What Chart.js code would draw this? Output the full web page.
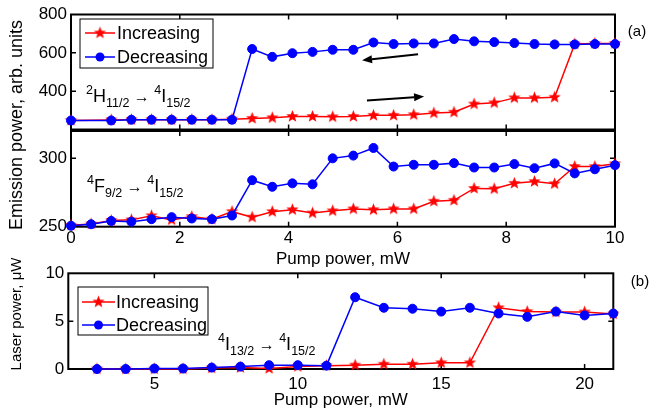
<!DOCTYPE html>
<html>
<head>
<meta charset="utf-8">
<script src="https://cdn.jsdelivr.net/npm/chart.js@4.4.1/dist/chart.umd.min.js"></script>
<style>
  html, body { margin: 0; padding: 0; background: #fff; }
  #wrap { position: relative; width: 649px; height: 415px; }
  #wrap canvas { position: absolute; left: 0; top: 0; }
</style>
</head>
<body>
<div id="wrap">
  <canvas id="chartTop" width="649" height="415"></canvas>
  <canvas id="chartMid" width="649" height="415"></canvas>
  <canvas id="chartLaser" width="649" height="415"></canvas>
</div>
<script>
// panel (a): pump power, mW
const pumpA = [0, 0.37, 0.74, 1.11, 1.48, 1.85, 2.22, 2.59, 2.96, 3.33, 3.70, 4.07, 4.44, 4.81,
               5.19, 5.56, 5.93, 6.30, 6.67, 7.04, 7.41, 7.78, 8.15, 8.52, 8.89, 9.26, 9.63, 10];
// 2H11/2 -> 4I15/2 emission
const incTop = [247, null, 250, 251, 251, 251, 251, 251, 254, 258, 261, 268, 268, 266,
                268, 274, 274, 277, 286, 290, 333, 339, 365, 365, 368, 646, 649, 649];
const decTop = [247, null, 247, 251, 251, 251, 251, 251, 251, 620, 579, 598, 605, 616,
                616, 654, 646, 649, 649, 672, 660, 656, 651, 646, 644, 644, 646, 646];
// 4F9/2 -> 4I15/2 emission
const incMid = [251, 252, 254.5, 255, 258, 255, 257.4, 255.5, 261, 257, 261, 262.4, 260, 261.6,
                263, 262.4, 263, 263, 268.6, 269.3, 278, 277.7, 281.7, 283, 281.4, 294, 294, 296];
const decMid = [250.7, 251.8, 254.2, 253.7, 255.5, 257, 256, 255.5, 258.2, 284, 279.2, 281.7, 281, 300,
                302, 307.6, 294, 295.3, 295.3, 296.5, 293.3, 293.3, 295.8, 292.8, 296.3, 289, 292, 295];
// panel (b): laser power, uW
const pumpB = [3, 4, 5, 6, 7, 8, 9, 10, 11, 12, 13, 14, 15, 16, 17, 18, 19, 20, 21];
const incLaser = [0, 0, 0, 0, 0.1, 0.15, 0.05, 0.25, 0.35, 0.4, 0.5, 0.5, 0.65, 0.65, 6.4, 6.0, 5.95, 5.95, 5.75];
const decLaser = [0, 0, 0.05, 0.05, 0.15, 0.25, 0.4, 0.4, 0.35, 7.5, 6.4, 6.3, 6.0, 6.4, 5.8, 5.45, 6.0, 5.6, 5.8];

// tick values
const xTicksA = [0, 2, 4, 6, 8, 10];
const yTicksTop = [400, 600, 800];
const yTicksMid = [250, 300];
const xTicksB = [5, 10, 15, 20];
const yTicksLaser = [0, 5, 10];

// direction arrows in panel (a), data space: [x tail, y tail, x head, y head]
const arrowsTop = [[6.38, 593, 5.35, 561], [5.44, 351, 6.49, 372]];

const FONT = "'Liberation Sans', Arial, Helvetica, sans-serif";
Chart.defaults.font.family = FONT;
Chart.defaults.font.size = 17;
Chart.defaults.color = '#000';

function makeStar(r, color) {
    const c = document.createElement('canvas');
    const s = Math.ceil(r * 2 + 2);
    c.width = s; c.height = s;
    const g = c.getContext('2d');
    g.translate(s / 2, s / 2);
    g.beginPath();
    for (let k = 0; k < 10; k++) {
        const rad = k % 2 === 0 ? r : r * 0.42;
        const a = -Math.PI / 2 + k * Math.PI / 5;
        g.lineTo(rad * Math.cos(a), rad * Math.sin(a));
    }
    g.closePath();
    g.fillStyle = color;
    g.fill();
    return c;
}
const redStar = makeStar(6.5, '#ff0000');

const pts = (xs, ys) => xs.map((x, i) => ({ x: x, y: ys[i] }));

function incSet(xs, ys) {
    return {
        label: 'Increasing', data: pts(xs, ys),
        borderColor: '#ff0000', backgroundColor: '#ff0000', borderWidth: 1.5,
        pointStyle: redStar, pointRadius: 6, order: 2, clip: false, spanGaps: true
    };
}
function decSet(xs, ys) {
    return {
        label: 'Decreasing', data: pts(xs, ys),
        borderColor: '#0000ff', backgroundColor: '#0000ff', borderWidth: 1.5,
        pointStyle: 'circle', pointRadius: 4.5, pointBorderWidth: 1, order: 1, clip: false, spanGaps: true
    };
}

// box and inward ticks like the original figure
const framePlugin = {
    id: 'frame',
    beforeDatasetsDraw(chart) {
        const { ctx, chartArea: a } = chart;
        const xs = chart.scales.x, ys = chart.scales.y;
        ctx.save();
        ctx.strokeStyle = '#000';
        ctx.lineWidth = 1.5;
        xs.ticks.forEach(t => {
            if (t.value <= xs.min || t.value >= xs.max) return;
            const px = xs.getPixelForValue(t.value);
            ctx.beginPath();
            ctx.moveTo(px, a.bottom); ctx.lineTo(px, a.bottom - 5);
            ctx.moveTo(px, a.top); ctx.lineTo(px, a.top + 5);
            ctx.stroke();
        });
        ys.ticks.forEach(t => {
            if (t.value <= ys.min || t.value >= ys.max) return;
            const py = ys.getPixelForValue(t.value);
            ctx.beginPath();
            ctx.moveTo(a.left, py); ctx.lineTo(a.left + 5, py);
            ctx.moveTo(a.right, py); ctx.lineTo(a.right - 5, py);
            ctx.stroke();
        });
        ctx.lineWidth = 2;
        ctx.strokeRect(a.left, a.top, a.right - a.left, a.bottom - a.top);
        ctx.restore();
    }
};

function drawTerm(ctx, x, y, parts) {
    for (const [kind, txt] of parts) {
        const size = kind === 'main' ? 18 : kind === 'arr' ? 16 : 12.5;
        ctx.font = size + 'px ' + FONT;
        const dy = kind === 'sup' ? -8 : kind === 'sub' ? 5 : 0;
        ctx.fillText(txt, x, y + dy);
        x += ctx.measureText(txt).width;
    }
}

function drawArrow(ctx, x0, y0, x1, y1) {
    const ang = Math.atan2(y1 - y0, x1 - x0);
    const hl = 10, hw = 4;
    const bx = x1 - hl * Math.cos(ang), by = y1 - hl * Math.sin(ang);
    ctx.beginPath();
    ctx.moveTo(x0, y0); ctx.lineTo(bx, by);
    ctx.stroke();
    ctx.beginPath();
    ctx.moveTo(x1, y1);
    ctx.lineTo(bx + hw * Math.sin(ang), by - hw * Math.cos(ang));
    ctx.lineTo(bx - hw * Math.sin(ang), by + hw * Math.cos(ang));
    ctx.closePath();
    ctx.fill();
}

// legend box, labels, arrows, side texts
const decorPlugin = {
    id: 'decor',
    afterDatasetsDraw(chart, args, opts) {
        const ctx = chart.ctx;
        ctx.save();
        ctx.fillStyle = '#000';
        ctx.strokeStyle = '#000';
        if (opts.legend) {
            const L = opts.legend;
            ctx.fillStyle = '#fff';
            ctx.fillRect(L.x, L.y, L.w, L.h);
            ctx.lineWidth = 1;
            ctx.strokeRect(L.x, L.y, L.w, L.h);
            const sets = chart.data.datasets.slice().sort((p, q) => q.order - p.order);
            sets.forEach((ds, i) => {
                const ry = L.rows[i];
                ctx.strokeStyle = ds.borderColor;
                ctx.lineWidth = ds.borderWidth;
                ctx.beginPath();
                ctx.moveTo(L.sx0, ry); ctx.lineTo(L.sx1, ry);
                ctx.stroke();
                const cx = (L.sx0 + L.sx1) / 2;
                if (ds.pointStyle === 'circle') {
                    ctx.fillStyle = ds.backgroundColor;
                    ctx.beginPath();
                    ctx.arc(cx, ry, ds.pointRadius, 0, Math.PI * 2);
                    ctx.fill();
                } else {
                    ctx.drawImage(ds.pointStyle, cx - ds.pointStyle.width / 2, ry - ds.pointStyle.height / 2);
                }
                ctx.fillStyle = '#000';
                ctx.font = '18px ' + FONT;
                ctx.textBaseline = 'middle';
                ctx.fillText(ds.label, L.tx, ry + 1);
            });
        }
        ctx.textBaseline = 'alphabetic';
        ctx.textAlign = 'left';
        (opts.terms || []).forEach(t => drawTerm(ctx, t.x, t.y, t.parts));
        if (opts.arrows) {
            const xs = chart.scales.x, ys = chart.scales.y;
            ctx.lineWidth = 2;
            ctx.strokeStyle = '#000';
            ctx.fillStyle = '#000';
            opts.arrows.forEach(a => drawArrow(ctx,
                xs.getPixelForValue(a[0]), ys.getPixelForValue(a[1]),
                xs.getPixelForValue(a[2]), ys.getPixelForValue(a[3])));
        }
        (opts.texts || []).forEach(t => {
            ctx.save();
            ctx.translate(t.x, t.y);
            if (t.rotate) ctx.rotate(-Math.PI / 2);
            ctx.font = t.size + 'px ' + FONT;
            ctx.fillStyle = '#000';
            ctx.textAlign = 'center';
            ctx.textBaseline = 'middle';
            ctx.fillText(t.text, 0, 0);
            ctx.restore();
        });
        ctx.restore();
    }
};

function axisX(min, max, ticks, showLabels, height, labelPad, title) {
    return {
        type: 'linear', min: min, max: max,
        afterBuildTicks: s => { s.ticks = ticks.map(v => ({ value: v })); },
        afterFit: s => { s.height = height; },
        grid: { display: false, drawTicks: false },
        border: { display: false },
        ticks: { display: showLabels, padding: labelPad, maxRotation: 0, autoSkip: false },
        title: title ? { display: true, text: title, padding: 0, font: { size: 17 } } : { display: false }
    };
}
function axisY(min, max, ticks, width) {
    return {
        type: 'linear', min: min, max: max,
        afterBuildTicks: s => { s.ticks = ticks.map(v => ({ value: v })); },
        afterFit: s => { s.width = width; },
        grid: { display: false, drawTicks: false },
        border: { display: false },
        ticks: { padding: 4, autoSkip: false }
    };
}

const baseOpts = {
    responsive: false,
    animation: false,
    devicePixelRatio: 1,
    events: []
};

new Chart(document.getElementById('chartTop'), {
    type: 'line',
    data: { datasets: [incSet(pumpA, incTop), decSet(pumpA, decTop)] },
    options: Object.assign({}, baseOpts, {
        layout: { padding: { left: 0, right: 34, top: 14.5, bottom: 415 - 129.5 } },
        scales: {
            x: axisX(0, 10, xTicksA, false, 0, 0, null),
            y: axisY(200, 800, yTicksTop, 71)
        },
        plugins: {
            legend: { display: false },
            tooltip: { enabled: false },
            decor: {
                legend: { x: 80, y: 19, w: 133, h: 49, rows: [33, 57], sx0: 85, sx1: 115, tx: 117 },
                terms: [{ x: 86, y: 101.5, parts: [['sup', '2'], ['main', 'H'], ['sub', '11/2'], ['arr', ' \u2192 '], ['sup', '4'], ['main', 'I'], ['sub', '15/2']] }],
                arrows: arrowsTop,
                texts: [
                    { text: 'Emission power, arb. units', x: 17, y: 125, size: 18, rotate: true },
                    { text: '(a)', x: 637, y: 32, size: 15 }
                ]
            }
        }
    }),
    plugins: [framePlugin, decorPlugin]
});

new Chart(document.getElementById('chartMid'), {
    type: 'line',
    data: { datasets: [incSet(pumpA, incMid), decSet(pumpA, decMid)] },
    options: Object.assign({}, baseOpts, {
        layout: { padding: { left: 0, right: 34, top: 131, bottom: 415 - 226.7 - 42.5 } },
        scales: {
            x: axisX(0, 10, xTicksA, true, 42.5, 1.5, 'Pump power, mW'),
            y: axisY(250, 320, yTicksMid, 71)
        },
        plugins: {
            legend: { display: false },
            tooltip: { enabled: false },
            decor: {
                terms: [{ x: 87, y: 191.5, parts: [['sup', '4'], ['main', 'F'], ['sub', '9/2'], ['arr', ' \u2192 '], ['sup', '4'], ['main', 'I'], ['sub', '15/2']] }]
            }
        }
    }),
    plugins: [framePlugin, decorPlugin]
});

new Chart(document.getElementById('chartLaser'), {
    type: 'line',
    data: { datasets: [incSet(pumpB, incLaser), decSet(pumpB, decLaser)] },
    options: Object.assign({}, baseOpts, {
        layout: { padding: { left: 0, right: 649 - 613.3, top: 273.3, bottom: 415 - 369 - 41.2 } },
        scales: {
            x: axisX(2, 21, xTicksB, true, 41.2, 5, 'Pump power, mW'),
            y: axisY(0, 10, yTicksLaser, 68.3)
        },
        plugins: {
            legend: { display: false },
            tooltip: { enabled: false },
            decor: {
                legend: { x: 78, y: 287, w: 130, h: 48, rows: [302, 325], sx0: 82, sx1: 115, tx: 116 },
                terms: [{ x: 218, y: 350, parts: [['sup', '4'], ['main', 'I'], ['sub', '13/2'], ['arr', ' \u2192 '], ['sup', '4'], ['main', 'I'], ['sub', '15/2']] }],
                texts: [
                    { text: 'Laser power, \u03bcW', x: 17, y: 314, size: 15, rotate: true },
                    { text: '(b)', x: 640, y: 282, size: 15 }
                ]
            }
        }
    }),
    plugins: [framePlugin, decorPlugin]
});
</script>
</body>
</html>
